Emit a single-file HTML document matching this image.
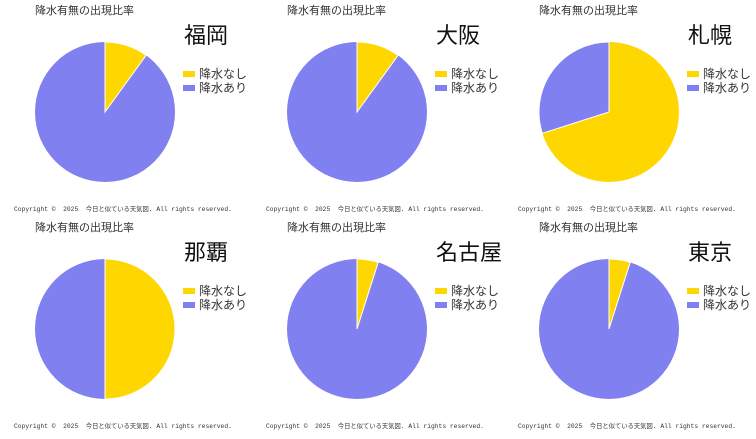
<!DOCTYPE html>
<html><head><meta charset="utf-8"><style>
body{margin:0;background:#fff;width:756px;height:434px;overflow:hidden;font-family:"Liberation Sans","Noto Sans CJK JP",sans-serif}
</style></head><body>
<svg width="756" height="434" xmlns="http://www.w3.org/2000/svg" font-family="Liberation Sans, Noto Sans CJK JP, sans-serif">
<defs>
<g id="leg">
<rect x="183" y="71" width="12" height="6" fill="#FFD700"/>
<rect x="183" y="85" width="12" height="6" fill="#8080F0"/>
<text x="199" y="78" font-size="12" fill="#333">降水なし</text>
<text x="199" y="92" font-size="12" fill="#333">降水あり</text>
<text x="35" y="14" font-size="11" fill="#333">降水有無の出現比率</text>
<text x="14" y="211" font-size="6.3" font-family="Liberation Mono, Noto Sans CJK JP, monospace" fill="#333" style="white-space:pre">Copyright ©  2025  今日と似ている天気図. All rights reserved.</text>
</g>
</defs>
<g transform="translate(0,0)"><use href="#leg"/>
<circle cx="105" cy="112" r="70" fill="#8080F0"/>
<path d="M105,112 L105,42 A70,70 0 0,1 146.1,55.4 Z" fill="#FFD700" stroke="#fff" stroke-width="1"/>
<text x="184" y="43" font-size="22" fill="#111">福岡</text></g>
<g transform="translate(252,0)"><use href="#leg"/>
<circle cx="105" cy="112" r="70" fill="#8080F0"/>
<path d="M105,112 L105,42 A70,70 0 0,1 146.1,55.4 Z" fill="#FFD700" stroke="#fff" stroke-width="1"/>
<text x="184" y="43" font-size="22" fill="#111">大阪</text></g>
<g transform="translate(504,0)"><use href="#leg"/>
<circle cx="105" cy="112" r="70" fill="#FFD700"/>
<path d="M105,112 L38.3,133.3 A70,70 0 0,1 105,42 Z" fill="#8080F0" stroke="#fff" stroke-width="1"/>
<text x="184" y="43" font-size="22" fill="#111">札幌</text></g>
<g transform="translate(0,217)"><use href="#leg"/>
<circle cx="105" cy="112" r="70" fill="#8080F0"/>
<path d="M105,112 L105,42 A70,70 0 0,1 105,182 Z" fill="#FFD700" stroke="#fff" stroke-width="1"/>
<text x="184" y="43" font-size="22" fill="#111">那覇</text></g>
<g transform="translate(252,217)"><use href="#leg"/>
<circle cx="105" cy="112" r="70" fill="#8080F0"/>
<path d="M105,112 L105,42 A70,70 0 0,1 126.2,45.3 Z" fill="#FFD700" stroke="#fff" stroke-width="1"/>
<text x="184" y="43" font-size="22" fill="#111">名古屋</text></g>
<g transform="translate(504,217)"><use href="#leg"/>
<circle cx="105" cy="112" r="70" fill="#8080F0"/>
<path d="M105,112 L105,42 A70,70 0 0,1 126.2,45.3 Z" fill="#FFD700" stroke="#fff" stroke-width="1"/>
<text x="184" y="43" font-size="22" fill="#111">東京</text></g>
</svg>
</body></html>
